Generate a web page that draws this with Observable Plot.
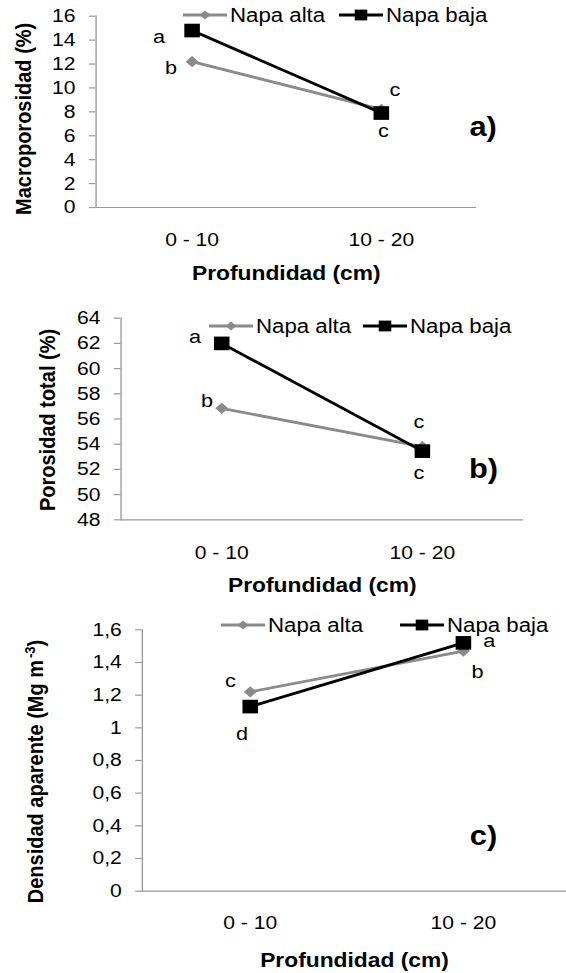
<!DOCTYPE html>
<html><head><meta charset="utf-8">
<script src="https://cdn.jsdelivr.net/npm/d3@7"></script>
<script src="https://cdn.jsdelivr.net/npm/@observablehq/plot@0.6"></script>
<style>
html,body{margin:0;padding:0;background:#fff;}
#root{position:relative;width:566px;height:973px;overflow:hidden;background:#fff;font-family:"Liberation Sans",Arial,sans-serif;}
.panel{position:absolute;left:0;width:566px;}
.leg{position:absolute;display:flex;align-items:center;transform-origin:left center;white-space:nowrap;font-size:19.5px;line-height:22px;height:22px;color:#000;}
.leg span{display:inline-block;}
</style></head><body><div id="root"></div>
<script>
// ---------- data ----------
const depths = ["0 - 10", "10 - 20"];
const seriesNames = ["Napa alta", "Napa baja"];

const macroAlta = [12.2, 8.2];
const macroBaja = [14.8, 7.9];
const macroAltaLetters = ["b", "c"];
const macroBajaLetters = ["a", "c"];
const macroTicks = [0, 2, 4, 6, 8, 10, 12, 14, 16];
const macroTickLabels = ["0", "2", "4", "6", "8", "10", "12", "14", "16"];

const totalAlta = [56.85, 53.8];
const totalBaja = [62.0, 53.45];
const totalAltaLetters = ["b", "c"];
const totalBajaLetters = ["a", "c"];
const totalTicks = [48, 50, 52, 54, 56, 58, 60, 62, 64];
const totalTickLabels = ["48", "50", "52", "54", "56", "58", "60", "62", "64"];

const densAlta = [1.22, 1.47];
const densBaja = [1.13, 1.52];
const densAltaLetters = ["c", "b"];
const densBajaLetters = ["d", "a"];
const densTicks = [0, 0.2, 0.4, 0.6, 0.8, 1, 1.2, 1.4, 1.6];
const densTickLabels = ["0", "0,2", "0,4", "0,6", "0,8", "1", "1,2", "1,4", "1,6"];

const yTitles = ["Macroporosidad (%)", "Porosidad total (%)", "Densidad aparente (Mg m-3)"];
const xTitle = "Profundidad (cm)";
const panelTags = ["a)", "b)", "c)"];

// ---------- layout / style ----------
const K = 1.14;              // horizontal stretch of the reference
const VW = 566 / K;
const GRAY = "#8a8a8a", BLACK = "#000", AXIS = "#9a9a9a";

const panels = [
  {alta: macroAlta, baja: macroBaja, altaL: macroAltaLetters, bajaL: macroBajaLetters,
   ticks: macroTicks, labels: macroTickLabels, yTitle: yTitles[0], tag: panelTags[0]},
  {alta: totalAlta, baja: totalBaja, altaL: totalAltaLetters, bajaL: totalBajaLetters,
   ticks: totalTicks, labels: totalTickLabels, yTitle: yTitles[1], tag: panelTags[1]},
  {alta: densAlta, baja: densBaja, altaL: densAltaLetters, bajaL: densBajaLetters,
   ticks: densTicks, labels: densTickLabels, yTitle: yTitles[2], tag: panelTags[2]}
];

const layout = [
  {top: 0, height: 300, mt: 15.7, mb: 93, left: 95.5, right: 476, tickPad: 25, xTitleDy: 66.5,
   yTitleOff: [-72.5, 7], tagOff: [6.5, 110.7],
   altaOff: [[-21, 6.6], [13.5, -19.7]], bajaOff: [[-33, 6.7], [2, 17.7]],
   legend: {y: 15, alta: 183, baja: 339}},
  {top: 300, height: 300, mt: 17.7, mb: 80.7, left: 120.5, right: 523, tickPad: 26, xTitleDy: 66,
   yTitleOff: [-73.5, 1], tagOff: [-40, 150.7],
   altaOff: [[-14.7, -6.9], [-3.5, -25.3]], bajaOff: [[-26.7, -6.5], [-3.5, 22.1]],
   legend: {y: 326, alta: 209, baja: 363}},
  {top: 600, height: 373, mt: 29.3, mb: 82.3, left: 141.8, right: 570.4, clipRight: 566, tickPad: 25, xTitleDy: 69,
   yTitleOff: [-106.8, 11], tagOff: [-83.1, 206.5],
   altaOff: [[-19.8, -11.3], [14.2, 20.7]], bajaOff: [[-8.2, 27.3], [25.9, -2.1]],
   legend: {y: 625, alta: 221, baja: 400}}
];

const root = document.getElementById("root");

panels.forEach((p, i) => {
  const L = layout[i];
  const frameRight = L.clipRight ?? L.right;
  const ymin = p.ticks[0], ymax = p.ticks[p.ticks.length - 1];
  const altaRows = depths.map((d, j) => ({depth: d, value: p.alta[j], letter: p.altaL[j], off: L.altaOff[j]}));
  const bajaRows = depths.map((d, j) => ({depth: d, value: p.baja[j], letter: p.bajaL[j], off: L.bajaOff[j]}));

  const letterMarks = [...altaRows, ...bajaRows].map(r =>
    Plot.text([r], {x: "depth", y: "value", text: "letter", dx: r.off[0] / K, dy: r.off[1],
      fontSize: 19, lineAnchor: "middle", textAnchor: "middle", fill: "#000"}));

  const chart = Plot.plot({
    width: VW,
    height: L.height,
    marginTop: L.mt,
    marginBottom: L.mb,
    marginLeft: L.left / K,
    marginRight: VW - frameRight / K,
    style: {fontFamily: "'Liberation Sans', Arial, sans-serif", fontSize: "18.5px", background: "#fff", overflow: "visible"},
    x: {type: "point", domain: depths, range: [L.left / K, L.right / K]},
    y: {domain: [ymin, ymax]},
    marks: [
      Plot.ruleY([ymin], {stroke: AXIS, strokeWidth: 1.2}),
      Plot.frame({anchor: "left", stroke: AXIS, strokeWidth: 1.2}),
      Plot.axisY({ticks: p.ticks, tickFormat: d => p.labels[p.ticks.indexOf(d)], tickSize: 5.8, tickPadding: 12.3,
        stroke: AXIS, strokeWidth: 1.2, fill: "#000", fontSize: 18.5, label: null}),
      Plot.axisX({tickSize: 0, tickPadding: L.tickPad, fill: "#000", fontSize: 18.5, label: null}),
      Plot.line(altaRows, {x: "depth", y: "value", stroke: GRAY, strokeWidth: 2.8}),
      Plot.dot(altaRows, {x: "depth", y: "value", symbol: "diamond2", r: 5.1, fill: GRAY, stroke: "none"}),
      Plot.line(bajaRows, {x: "depth", y: "value", stroke: BLACK, strokeWidth: 2.8}),
      Plot.dot(bajaRows, {x: "depth", y: "value", symbol: "square", r: 7.7, fill: BLACK, stroke: "none"}),
      ...letterMarks,
      Plot.text([p.yTitle], {frameAnchor: "left", rotate: -90, dx: L.yTitleOff[0] / K, dy: L.yTitleOff[1],
        fontWeight: "bold", fontSize: 20, lineAnchor: "middle", textAnchor: "middle", fill: "#000"}),
      Plot.text([xTitle], {frameAnchor: "bottom", dy: L.xTitleDy, fontWeight: "bold", fontSize: 20,
        lineAnchor: "middle", textAnchor: "middle", fill: "#000"}),
      Plot.text([p.tag], {frameAnchor: "top-right", dx: L.tagOff[0] / K, dy: L.tagOff[1], fontWeight: "bold",
        fontSize: 27, lineAnchor: "middle", textAnchor: "middle", fill: "#000"})
    ]
  });

  // stretch horizontally like the reference
  chart.setAttribute("width", 566);
  chart.setAttribute("height", L.height);
  chart.setAttribute("viewBox", `0 0 ${VW} ${L.height}`);
  chart.setAttribute("preserveAspectRatio", "none");
  chart.style.width = "566px";
  chart.style.height = L.height + "px";
  chart.style.maxWidth = "none";

  // superscript for "m-3"
  d3.select(chart).selectAll("text").each(function () {
    if (this.textContent === "Densidad aparente (Mg m-3)") {
      const t = d3.select(this);
      t.text("Densidad aparente (Mg m");
      t.append("tspan").attr("dy", -7).attr("font-size", 13).attr("dx", 2).text("-3");
      t.append("tspan").attr("dy", 7).text(")");
    }
  });

  const div = document.createElement("div");
  div.className = "panel";
  div.style.top = L.top + "px";
  div.style.height = L.height + "px";
  div.appendChild(chart);
  root.appendChild(div);

  // legend
  [["alta", seriesNames[0], GRAY, "diamond"], ["baja", seriesNames[1], BLACK, "square"]].forEach(([key, name, color, sym]) => {
    const leg = document.createElement("div");
    leg.className = "leg";
    leg.style.left = L.legend[key] + "px";
    leg.style.top = (L.legend.y - 11) + "px";
    leg.style.transform = `scaleX(${K})`;
    const w = 44 / K;
    const cx = w / 2;
    const marker = sym === "diamond"
      ? `<polygon points="${cx},3.4 ${cx + 4.6},8 ${cx},12.6 ${cx - 4.6},8" fill="${color}"/>`
      : `<rect x="${cx - 5.5}" y="2.6" width="11" height="10.8" fill="${color}"/>`;
    leg.innerHTML = `<svg width="${w}" height="16" style="display:block"><line x1="0" x2="${w}" y1="8" y2="8" stroke="${color}" stroke-width="2.8"/>${marker}</svg><span style="margin-left:${3 / K}px">${name}</span>`;
    root.appendChild(leg);
  });
});
</script></body></html>
